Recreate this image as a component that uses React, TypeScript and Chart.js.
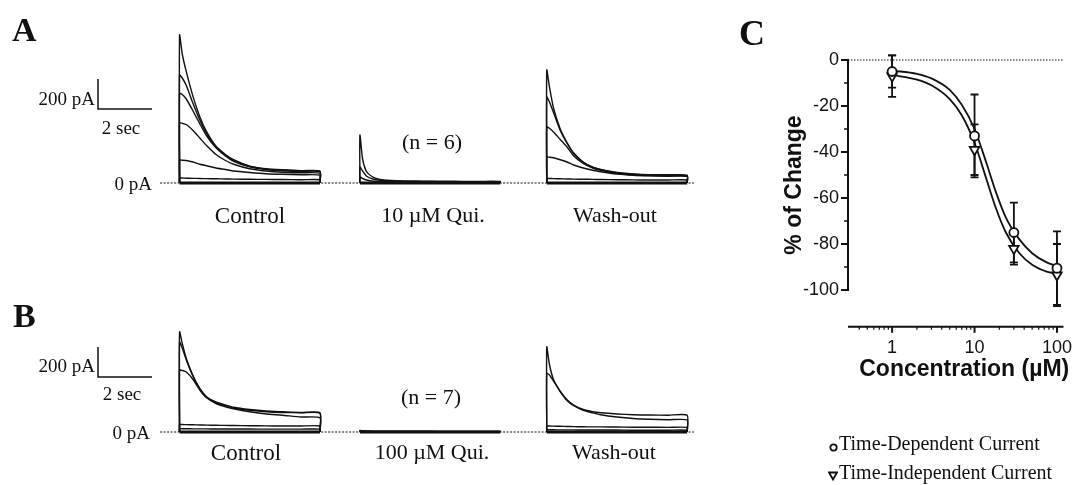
import React, { useEffect, useRef } from "react";
import { Chart, registerables } from "chart.js";
Chart.register(...registerables);

// ---------- Panel A / B trace data (pA, seconds after step onset) ----------
const TRACE_T = [0, 0.1, 0.25, 0.5, 0.75, 1.0, 1.35, 1.7, 2.0, 2.6, 3.2, 3.8, 4.5, 5.2];
const GROUP_START = [6.65, 13.33, 20.25];
const BASELINE_SPAN = [5.93, 25.7];

const A_CONTROL = [
  [987, 860, 742, 576, 442, 342, 245, 190, 155, 112, 92, 85, 80, 78],
  [720, 700, 650, 530, 420, 330, 240, 185, 150, 110, 95, 88, 82, 80],
  [598, 590, 560, 480, 395, 315, 235, 180, 145, 108, 90, 82, 78, 75],
  [400, 398, 390, 350, 300, 250, 190, 150, 125, 95, 80, 72, 68, 65],
  [153, 152, 150, 140, 125, 115, 100, 90, 80, 70, 62, 58, 55, 52],
  [33, 33, 32, 31, 30, 29, 28, 27, 26, 25, 24, 23, 22, 22],
];
const A_QUI = [
  [320, 160, 75, 38, 24, 18, 15, 14, 13, 12, 12, 11, 11, 10],
  [107, 80, 45, 25, 18, 14, 12, 11, 10, 10, 9, 9, 8, 8],
  [40, 30, 20, 12, 10, 9, 8, 8, 7, 7, 7, 6, 6, 6],
];
const A_WASH = [
  [753, 640, 500, 360, 270, 200, 140, 105, 90, 70, 60, 55, 55, 52],
  [573, 540, 470, 350, 265, 195, 138, 105, 88, 68, 58, 52, 50, 48],
  [373, 365, 340, 290, 240, 180, 130, 100, 85, 65, 55, 50, 48, 46],
  [173, 172, 168, 155, 140, 120, 100, 85, 75, 60, 52, 48, 45, 44],
  [30, 30, 29, 28, 27, 26, 25, 24, 23, 22, 21, 20, 20, 20],
];
const B_CONTROL = [
  [668, 590, 490, 375, 290, 235, 200, 180, 165, 150, 140, 135, 130, 128],
  [600, 560, 480, 370, 285, 232, 195, 175, 160, 145, 135, 130, 128, 125],
  [413, 410, 400, 350, 280, 228, 190, 168, 155, 135, 120, 112, 100, 95],
  [50, 50, 49, 48, 47, 46, 45, 44, 43, 42, 41, 40, 40, 40],
  [22, 22, 22, 21, 21, 21, 20, 20, 20, 20, 19, 19, 19, 19],
];
const B_QUI = [
  [10, 8, 7, 6, 6, 5, 5, 5, 5, 5, 4, 4, 4, 4],
  [5, 5, 4, 4, 4, 3, 3, 3, 3, 3, 3, 3, 3, 3],
];
const B_WASH = [
  [567, 450, 350, 270, 215, 180, 150, 135, 128, 120, 115, 113, 112, 112],
  [391, 380, 340, 270, 210, 175, 145, 128, 115, 100, 90, 85, 82, 80],
  [40, 40, 39, 38, 37, 36, 35, 34, 34, 33, 32, 32, 31, 30],
  [15, 15, 15, 14, 14, 14, 13, 13, 13, 13, 12, 12, 12, 12],
];
const SCALE_BAR_A = { t: 3.63, pA: 493 };
const SCALE_BAR_B = { t: 3.63, pA: 367 };
const SCALE_PA = 200;
const SCALE_SEC = 2;

// ---------- Panel C data ----------
const CONC = [1, 10, 30, 100];
const TD_MEAN = [-5, -33, -75, -90.5];
const TD_SEM = [7, 18, 13, 16];
const TI_MEAN = [-7, -39, -82, -93.5];
const TI_SEM = [9, 11, 7, 13.5];
const FIT_X = [1, 2, 3, 5, 7, 10, 14, 18, 24, 35, 50, 75, 100];
const FIT_TD = [-4.6, -6, -8, -13, -19.5, -30, -45, -57, -68.5, -78, -84, -88, -89.6];
const FIT_TI = [-6.5, -8.5, -11, -17, -24, -36, -52, -64, -75, -84, -89, -92, -93];
const Y_TICKS = [0, -20, -40, -60, -80, -100];
const Y_MINOR = [-10, -30, -50, -70, -90];
const X_TICKS = [1, 10, 100];
const X_MINOR = [0.4, 0.5, 0.6, 0.7, 0.8, 0.9, 2, 3, 4, 5, 6, 7, 8, 9, 20, 30, 40, 50, 60, 70, 80, 90];
const X_MIN = 0.3;
const X_MAX = 120;
const X_AXIS_AT = -116;

const SERIF = '"Liberation Serif", "Times New Roman", serif';
const SANS = '"Liberation Sans", Arial, Helvetica, sans-serif';
const INK = "#111";

function traceConfig(groups: number[][][], yMin: number, yMax: number, bar: { t: number; pA: number }) {
  const datasets: any[] = [];
  const end = TRACE_T[TRACE_T.length - 1];
  datasets.push({
    data: [{ x: BASELINE_SPAN[0], y: 0 }, { x: BASELINE_SPAN[1], y: 0 }],
    borderColor: INK, borderWidth: 1.2, borderDash: [2, 1.5], pointRadius: 0, showLine: true,
  });
  groups.forEach((traces, g) => {
    const s = GROUP_START[g];
    traces.forEach((vals) => {
      datasets.push({
        data: [{ x: s, y: 0 }, ...TRACE_T.map((t, i) => ({ x: s + t, y: vals[i] })), { x: s + end, y: 0 }],
        borderColor: INK, borderWidth: 1.4, pointRadius: 0, showLine: true, tension: 0.2,
      });
    });
    datasets.push({
      data: [{ x: s, y: 0 }, { x: s + end, y: 0 }],
      borderColor: INK, borderWidth: 3.2, pointRadius: 0, showLine: true,
    });
  });
  datasets.push({
    data: [
      { x: bar.t, y: bar.pA + SCALE_PA },
      { x: bar.t, y: bar.pA },
      { x: bar.t + SCALE_SEC, y: bar.pA },
    ],
    borderColor: INK, borderWidth: 1.5, pointRadius: 0, showLine: true,
  });
  return {
    type: "scatter",
    data: { datasets },
    options: {
      animation: false, responsive: false, events: [],
      layout: { padding: 0 },
      plugins: { legend: { display: false }, tooltip: { enabled: false } },
      scales: {
        x: { type: "linear", min: 0, max: 720 / 27, display: false },
        y: { type: "linear", min: yMin, max: yMax, display: false },
      },
    },
  };
}

const cAxesPlugin = {
  id: "cAxes",
  beforeDatasetsDraw(chart: any) {
    const { ctx, scales } = chart;
    const x = scales.x, y = scales.y;
    ctx.save();
    ctx.strokeStyle = INK;
    ctx.fillStyle = INK;
    const ax = x.left - 1;
    const y0 = y.getPixelForValue(0);
    const y100 = y.getPixelForValue(-100);
    // dotted zero line
    ctx.lineWidth = 1.2;
    ctx.setLineDash([1.5, 1.5]);
    ctx.beginPath(); ctx.moveTo(ax, y0); ctx.lineTo(x.right, y0); ctx.stroke();
    ctx.setLineDash([]);
    // y axis
    ctx.lineWidth = 2;
    ctx.beginPath(); ctx.moveTo(ax, y0 - 1); ctx.lineTo(ax, y100 + 1); ctx.stroke();
    ctx.font = `18px ${SANS}`;
    ctx.textAlign = "right"; ctx.textBaseline = "middle";
    Y_TICKS.forEach((v) => {
      const p = y.getPixelForValue(v);
      ctx.beginPath(); ctx.moveTo(ax - 7, p); ctx.lineTo(ax, p); ctx.stroke();
      ctx.fillText(String(v), ax - 9, p);
    });
    ctx.lineWidth = 1.5;
    Y_MINOR.forEach((v) => {
      const p = y.getPixelForValue(v);
      ctx.beginPath(); ctx.moveTo(ax - 4, p); ctx.lineTo(ax, p); ctx.stroke();
    });
    // x axis
    const xa = y.getPixelForValue(X_AXIS_AT);
    ctx.lineWidth = 2;
    ctx.beginPath(); ctx.moveTo(ax, xa); ctx.lineTo(x.right, xa); ctx.stroke();
    ctx.textAlign = "center"; ctx.textBaseline = "middle";
    X_TICKS.forEach((v) => {
      const p = x.getPixelForValue(v);
      ctx.beginPath(); ctx.moveTo(p, xa); ctx.lineTo(p, xa + 6); ctx.stroke();
      ctx.fillText(String(v), p, xa + 21);
    });
    ctx.lineWidth = 1.2;
    X_MINOR.forEach((v) => {
      const p = x.getPixelForValue(v);
      ctx.beginPath(); ctx.moveTo(p, xa); ctx.lineTo(p, xa + 3); ctx.stroke();
    });
    // titles
    ctx.font = `bold 23px ${SANS}`;
    ctx.fillText("Concentration (\u00b5M)", (x.left + x.right) / 2 + 8, xa + 43);
    ctx.save();
    ctx.translate(ax - 53, (y0 + y100) / 2 + 10);
    ctx.rotate(-Math.PI / 2);
    ctx.fillText("% of Change", 0, 0);
    ctx.restore();
    // error bars
    ctx.lineWidth = 1.8;
    const bars = (means: number[], sems: number[]) => {
      CONC.forEach((c, i) => {
        const px = x.getPixelForValue(c);
        const top = y.getPixelForValue(means[i] + sems[i]);
        const bot = y.getPixelForValue(means[i] - sems[i]);
        ctx.beginPath();
        ctx.moveTo(px, top); ctx.lineTo(px, bot);
        ctx.moveTo(px - 4, top); ctx.lineTo(px + 4, top);
        ctx.moveTo(px - 4, bot); ctx.lineTo(px + 4, bot);
        ctx.stroke();
      });
    };
    bars(TD_MEAN, TD_SEM);
    bars(TI_MEAN, TI_SEM);
    ctx.restore();
  },
};

function panelCConfig() {
  return {
    type: "scatter",
    data: {
      datasets: [
        {
          data: FIT_X.map((c, i) => ({ x: c, y: FIT_TD[i] })),
          showLine: true, borderColor: INK, borderWidth: 1.8, pointRadius: 0,
          cubicInterpolationMode: "monotone", clip: false, order: 2,
        },
        {
          data: FIT_X.map((c, i) => ({ x: c, y: FIT_TI[i] })),
          showLine: true, borderColor: INK, borderWidth: 1.8, pointRadius: 0,
          cubicInterpolationMode: "monotone", clip: false, order: 2,
        },
        {
          data: CONC.map((c, i) => ({ x: c, y: TI_MEAN[i] })),
          pointStyle: "triangle", rotation: 180, pointRadius: 5.5,
          pointBackgroundColor: "#fff", pointBorderColor: INK, pointBorderWidth: 1.8,
          clip: false, order: 1,
        },
        {
          data: CONC.map((c, i) => ({ x: c, y: TD_MEAN[i] })),
          pointStyle: "circle", pointRadius: 4.5,
          pointBackgroundColor: "#fff", pointBorderColor: INK, pointBorderWidth: 1.8,
          clip: false, order: 0,
        },
      ],
    },
    options: {
      animation: false, responsive: false, events: [],
      layout: { padding: { left: 129, right: 11.5, top: 60, bottom: 195 } },
      plugins: { legend: { display: false }, tooltip: { enabled: false } },
      scales: {
        x: { type: "logarithmic", min: X_MIN, max: X_MAX, display: false },
        y: { type: "linear", min: -100, max: 0, display: false },
      },
    },
    plugins: [cAxesPlugin],
  };
}

function ChartBox({ left, top, width, height, build }: any) {
  const ref = useRef<HTMLCanvasElement>(null);
  useEffect(() => {
    const chart = new Chart(ref.current as HTMLCanvasElement, build());
    return () => chart.destroy();
  }, []);
  return (
    <div style={{ position: "absolute", left, top, width, height }}>
      <canvas ref={ref} width={width} height={height} style={{ width, height, display: "block" }} />
    </div>
  );
}

function T({ x, y, align = "center", size = 22, bold = false, family = SERIF, children }: any) {
  const tx = align === "center" ? "-50%" : align === "right" ? "-100%" : "0";
  return (
    <div
      style={{
        position: "absolute", left: x, top: y, transform: `translate(${tx}, -50%)`,
        fontFamily: family, fontSize: size, fontWeight: bold ? 700 : 400, color: INK,
        whiteSpace: "nowrap", lineHeight: 1,
      }}
    >
      {children}
    </div>
  );
}

export default function App() {
  return (
    <div style={{ position: "absolute", left: 0, top: 0, width: 1075, height: 485, background: "#fff", overflow: "hidden" }}>
      <ChartBox left={0} top={0} width={720} height={240}
        build={() => traceConfig([A_CONTROL, A_QUI, A_WASH], -380, 1220, SCALE_BAR_A)} />
      <ChartBox left={0} top={240} width={720} height={245}
        build={() => traceConfig([B_CONTROL, B_QUI, B_WASH], -353.3, 1280, SCALE_BAR_B)} />
      <ChartBox left={720} top={0} width={355} height={485} build={panelCConfig} />

      <T x={12} y={30} align="left" size={34} bold>A</T>
      <T x={95} y={98} align="right" size={19}>200 pA</T>
      <T x={121} y={127} size={19}>2 sec</T>
      <T x={152} y={183} align="right" size={19}>0 pA</T>
      <T x={432} y={142}>(n = 6)</T>
      <T x={250} y={215} size={23}>Control</T>
      <T x={433} y={215}>10 {"\u00b5"}M Qui.</T>
      <T x={615} y={215}>Wash-out</T>

      <T x={13} y={316} align="left" size={34} bold>B</T>
      <T x={95} y={365} align="right" size={19}>200 pA</T>
      <T x={122} y={393} size={19}>2 sec</T>
      <T x={150} y={432} align="right" size={19}>0 pA</T>
      <T x={431} y={397}>(n = 7)</T>
      <T x={246} y={452} size={23}>Control</T>
      <T x={432} y={452}>100 {"\u00b5"}M Qui.</T>
      <T x={614} y={452}>Wash-out</T>

      <T x={739} y={33} align="left" size={36} bold>C</T>
      <div style={{ position: "absolute", left: 829, top: 438, width: 9, height: 9 }}>
        <svg width="9" height="9"><circle cx="4.5" cy="4.5" r="3.2" fill="#fff" stroke={INK} strokeWidth="1.8" /></svg>
      </div>
      <T x={839} y={443} align="left" size={20}>Time-Dependent Current</T>
      <div style={{ position: "absolute", left: 828, top: 467, width: 10, height: 10 }}>
        <svg width="10" height="10"><polygon points="1,1.5 9,1.5 5,8.5" fill="#fff" stroke={INK} strokeWidth="1.8" /></svg>
      </div>
      <T x={839} y={472} align="left" size={20}>Time-Independent Current</T>
    </div>
  );
}
